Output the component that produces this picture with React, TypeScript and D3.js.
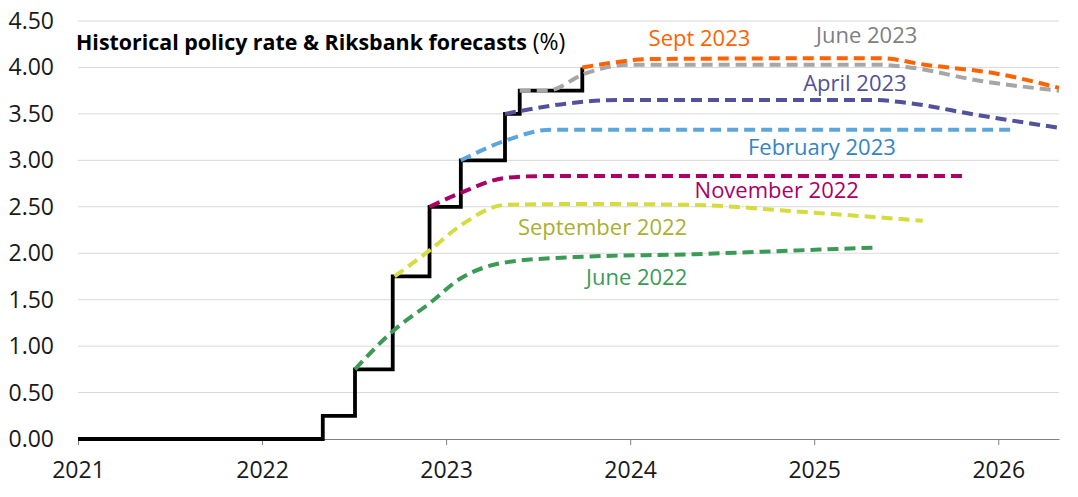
import * as d3 from "d3";
import { useEffect, useRef } from "react";

// policy rate steps (decimal year of change, rate %)
const policyDates = [2021.0, 2022.33, 2022.505, 2022.71, 2022.91, 2023.08, 2023.32, 2023.4, 2023.74];
const policyRates = [0, 0.25, 0.75, 1.75, 2.5, 3.0, 3.5, 3.75, 4.0];

// Riksbank forecast paths [decimal year, rate %]
const june2022 = [[2022.505, 0.75], [2022.71, 1.16], [2022.91, 1.46], [2023.08, 1.73], [2023.32, 1.9], [2023.71, 1.96], [2024.35, 1.99], [2024.9, 2.03], [2025.33, 2.06]];
const sept2022 = [[2022.72, 1.75], [2022.91, 2.03], [2023.08, 2.3], [2023.32, 2.52], [2023.75, 2.53], [2024.35, 2.52], [2024.9, 2.45], [2025.59, 2.35]];
const nov2022 = [[2022.91, 2.5], [2023.08, 2.65], [2023.32, 2.81], [2023.5, 2.83], [2025.82, 2.83]];
const feb2023 = [[2023.08, 3.0], [2023.32, 3.21], [2023.57, 3.33], [2026.08, 3.33]];
const apr2023 = [[2023.32, 3.5], [2023.4, 3.53], [2023.65, 3.61], [2023.95, 3.65], [2025.32, 3.65], [2025.5, 3.62], [2025.88, 3.49], [2026.33, 3.35]];
const june2023 = [[2023.4, 3.75], [2023.55, 3.75], [2023.75, 3.93], [2024.0, 4.03], [2025.34, 4.03], [2025.52, 4.0], [2025.89, 3.86], [2026.33, 3.75]];
const sept2023 = [[2023.74, 4.0], [2023.9, 4.05], [2024.1, 4.09], [2025.36, 4.1], [2025.6, 4.03], [2026.0, 3.93], [2026.33, 3.78]];

const seriesNames = ["June 2022", "September 2022", "November 2022", "February 2023", "April 2023", "June 2023", "Sept 2023"];
const seriesData = [june2022, sept2022, nov2022, feb2023, apr2023, june2023, sept2023];
const lineColors = ["#3b9b56", "#d4dc40", "#ab0066", "#5ba6dd", "#525199", "#a6a6a6", "#ff6200"];
const labelColors = ["#3b9b56", "#a9b030", "#ab0066", "#3484c4", "#525199", "#808080", "#ff6200"];
// label anchor [decimal year, value] (left edge, baseline)
const labelPos = [[2023.76, 1.66], [2023.39, 2.2], [2024.35, 2.59], [2024.64, 3.06], [2024.94, 3.75], [2025.01, 4.26], [2024.1, 4.23]];

const yTicks = [0, 0.5, 1, 1.5, 2, 2.5, 3, 3.5, 4, 4.5];
const xTicks = [2021, 2022, 2023, 2024, 2025, 2026];

const W = 1078;
const H = 497;
const FONT = "'Open Sans', Lato, sans-serif";

export default function App() {
  const svgRef = useRef<SVGSVGElement>(null);

  useEffect(() => {
    if (!svgRef.current) return;
    const margin = { top: 21, right: 19, bottom: 58, left: 78 };

    d3.select(svgRef.current).selectAll("*").remove();
    const svg = d3.select(svgRef.current);

    const x = d3.scaleLinear().domain([2021, 2026.33]).range([margin.left, W - margin.right]);
    const y = d3.scaleLinear().domain([0, 4.5]).range([H - margin.bottom, margin.top]);

    // grid
    svg
      .append("g")
      .selectAll("line")
      .data(yTicks.filter((d) => d > 0))
      .enter()
      .append("line")
      .attr("x1", x(2021))
      .attr("x2", x(2026.33))
      .attr("y1", (d) => y(d))
      .attr("y2", (d) => y(d))
      .attr("stroke", "#d9d9d9")
      .attr("stroke-width", 1);

    // y labels
    svg
      .append("g")
      .selectAll("text")
      .data(yTicks)
      .enter()
      .append("text")
      .attr("x", 54)
      .attr("y", (d) => y(d))
      .attr("dy", "0.35em")
      .attr("text-anchor", "end")
      .attr("font-family", FONT)
      .attr("font-size", 23)
      .attr("fill", "#1a1a1a")
      .text((d) => d3.format(".2f")(d));

    // x axis
    const xAxis = svg
      .append("g")
      .attr("transform", `translate(0,${y(0)})`)
      .call(
        d3
          .axisBottom(x)
          .tickValues(xTicks)
          .tickSize(6)
          .tickSizeOuter(0)
          .tickPadding(17)
          .tickFormat((d) => d3.format("d")(d as number))
      );
    xAxis.select(".domain").attr("stroke", "#808080");
    xAxis.selectAll(".tick line").attr("stroke", "#808080");
    xAxis
      .selectAll(".tick text")
      .attr("font-family", FONT)
      .attr("font-size", 23)
      .attr("fill", "#1a1a1a");

    // historical policy rate
    const step = d3
      .line<number>()
      .x((d, i) => x(policyDates[i]))
      .y((d) => y(d))
      .curve(d3.curveStepAfter);
    svg
      .append("path")
      .attr("d", step(policyRates))
      .attr("fill", "none")
      .attr("stroke", "#000")
      .attr("stroke-width", 3.8);

    // forecasts
    const line = d3
      .line<number[]>()
      .x((d) => x(d[0]))
      .y((d) => y(d[1]))
      .curve(d3.curveMonotoneX);
    seriesData.forEach((s, i) => {
      svg
        .append("path")
        .attr("d", line(s))
        .attr("fill", "none")
        .attr("stroke", lineColors[i])
        .attr("stroke-width", 4)
        .attr("stroke-dasharray", "11,6");
    });

    // series labels
    seriesNames.forEach((name, i) => {
      svg
        .append("text")
        .attr("x", x(labelPos[i][0]))
        .attr("y", y(labelPos[i][1]))
        .attr("font-family", FONT)
        .attr("font-size", 22)
        .attr("fill", labelColors[i])
        .text(name);
    });

    // title
    const title = svg
      .append("text")
      .attr("x", 76)
      .attr("y", 50)
      .attr("font-family", FONT)
      .attr("font-size", 21.4)
      .attr("fill", "#000");
    title.append("tspan").attr("font-weight", "bold").text("Historical policy rate & Riksbank forecasts");
    title.append("tspan").attr("font-size", 23).text(" (%)");
  }, []);

  return (
    <svg
      ref={svgRef}
      width={W}
      height={H}
      style={{ position: "absolute", left: 0, top: 0, background: "#fff" }}
    />
  );
}
